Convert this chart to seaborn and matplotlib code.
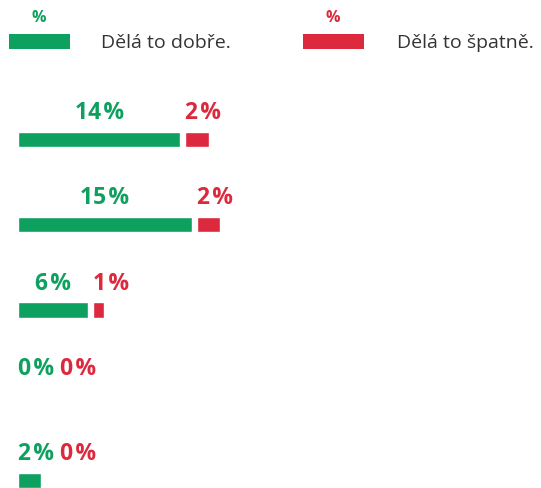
import matplotlib
matplotlib.use("Agg")
import matplotlib.pyplot as plt
import seaborn as sns
import pandas as pd
from matplotlib.patches import Rectangle

# data
rows = ["r1", "r2", "r3", "r4", "r5"]
good = [14, 15, 6, 0, 2]
bad = [2, 2, 1, 0, 0]
legend_labels = ["Dělá to dobře.", "Dělá to špatně."]

GREEN = "#0ea05e"
RED = "#dd293e"

W, H = 541, 489
s = 11.6          # pixels per percent
x0 = 18           # left edge of bars in px
gap = 5 / s       # gap between green and red bar
row0, dy = 140.5, 85.25

sns.set_theme(style="white")
plt.rcParams['font.family'] = ['Open Sans', 'DejaVu Sans']

fig = plt.figure(figsize=(W / 100, H / 100), dpi=100)
ax = fig.add_axes([0, 0, 1, 1])
df = pd.DataFrame({"row": rows, "good": good, "bad": bad})
sns.barplot(data=df, x="good", y="row", orient="h", color=GREEN,
            width=0.18, saturation=1, ax=ax)
ax.barh(range(len(rows)), df["bad"], left=df["good"] + gap,
        height=0.18, color=RED)
ax.set_xlim(-x0 / s, (W - x0) / s)
ax.set_ylim((H - row0) / dy, -row0 / dy)
ax.axis('off')

# value labels
fig.canvas.draw()
r = fig.canvas.get_renderer()
lab_kw = dict(fontsize=16.5, fontweight='bold', va='baseline')
for i, (g, b) in enumerate(zip(good, bad)):
    yb = i - 0.252
    t = ax.text(g / 2, yb, f"{g}\u200a%", ha='center', color=GREEN, **lab_kw)
    bb = t.get_window_extent(r)
    if bb.x0 < x0:
        t.set_x(t.get_position()[0] + (x0 - bb.x0) / s)
        bb = t.get_window_extent(r)
    red_left = max(x0 + g * s + 5, bb.x1 + 6)
    ax.text((red_left - x0) / s, yb, f"{b}\u200a%", ha='left', color=RED, **lab_kw)

# legend
def px(x, y):
    return x / W, 1 - y / H

for (sx, tx, col, lab) in [(9, 101, GREEN, legend_labels[0]),
                           (303, 397, RED, legend_labels[1])]:
    fig.add_artist(Rectangle(px(sx, 50), 61 / W, 15 / H, transform=fig.transFigure,
                             color=col, lw=0))
    fig.text(*px(sx + 30, 18), "%", ha='center', va='center', color=col,
             fontsize=11.5, fontweight='bold')
    fig.text(*px(tx, 43), lab, ha='left', va='center', color="#333333", fontsize=14)

fig.savefig("out.png", dpi=100)
